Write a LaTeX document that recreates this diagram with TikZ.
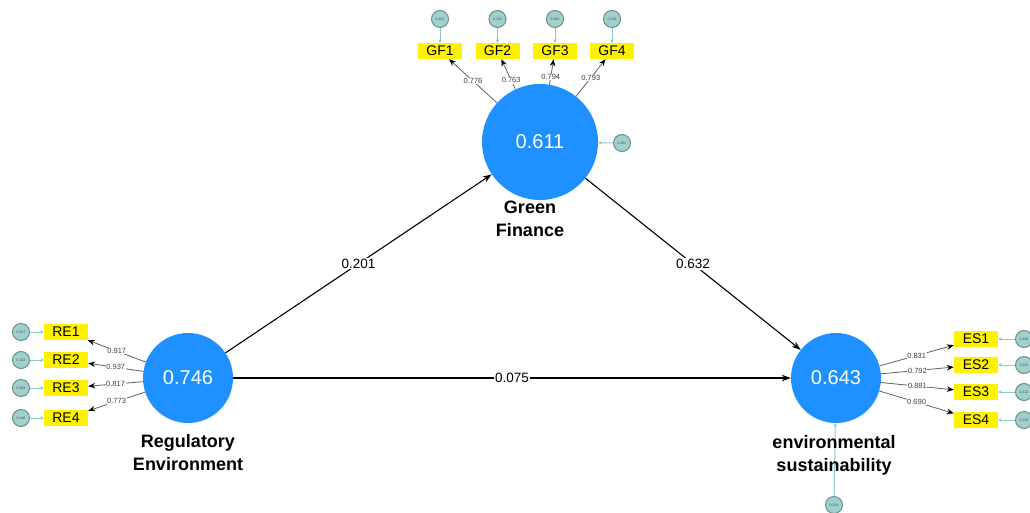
\documentclass[tikz,border=0pt]{standalone}
\usepackage{fontspec}
\setmainfont{Liberation Sans}
\usetikzlibrary{arrows.meta}
\definecolor{latentblue}{RGB}{30,144,255}
\definecolor{indyellow}{RGB}{255,242,0}
\definecolor{errfill}{RGB}{160,208,204}
\definecolor{errdraw}{RGB}{105,140,140}
\definecolor{errline}{RGB}{140,200,205}
\definecolor{loadline}{RGB}{95,95,95}
\begin{document}
\begin{tikzpicture}[x=1pt,y=-1pt,
  latent/.style={circle, fill=latentblue, draw=none, minimum size=#1, inner sep=0pt,
    text=white, font=\fontsize{20}{20}\selectfont},
  indicator/.style={fill=indyellow, minimum width=44pt, minimum height=16pt, inner sep=0pt,
    font=\fontsize{14}{14}\selectfont},
  errc/.style={circle, fill=errfill, draw=errdraw, line width=1pt, minimum size=17pt,
    inner sep=0pt, font=\fontsize{3.5}{4}\selectfont, text=black!70},
  errarrow/.style={draw=errline, line width=1pt, -{Stealth[length=3.5pt,width=3.5pt]}},
  loading/.style={draw=loadline, line width=0.8pt, -{Stealth[length=7pt,width=5.5pt,color=black]}},
  pathlink/.style={draw=black, line width=1.1pt, -{Stealth[length=9pt,width=6.5pt]}},
  lbl/.style={fill=white, inner sep=0.6pt, font=\fontsize{7.5}{8}\selectfont, text=black!75},
  plbl/.style={fill=white, inner sep=1pt, font=\fontsize{13.5}{14}\selectfont},
  construct/.style={font=\bfseries\fontsize{18}{23}\selectfont, align=center}]

\useasboundingbox (0,0) rectangle (1030,512);

% latent variables
\node[latent=116pt] (gf) at (540,142) {0.611};
\node[latent=90pt]  (re) at (188,378) {0.746};
\node[latent=90pt]  (es) at (836,378) {0.643};

% structural paths
\draw[pathlink] (re) -- node[plbl] {0.201} (gf);
\draw[pathlink] (gf) -- node[plbl] {0.632} (es);
\draw[pathlink] (re) -- node[plbl] {0.075} (es);

% Green Finance indicators
\foreach \i/\x/\e/\p/\ld in {1/440/0.152/0.5/0.776, 2/497.5/0.232/0.3/0.763,
                              3/555/0.280/0.3/0.794, 4/612/0.210/0.5/0.793} {
  \node[indicator] (gf\i) at (\x,51) {GF\i};
  \node[errc] (egf\i) at (\x,19) {\e};
  \draw[errarrow] (egf\i) -- (gf\i);
  \draw[loading] (gf) -- node[lbl, pos=\p] {\ld} (gf\i);
}

% Regulatory Environment indicators
\foreach \i/\y/\e/\ld in {1/332/0.157/0.917, 2/360/0.102/0.937,
                          3/388/0.289/0.817, 4/418/0.140/0.773} {
  \node[indicator] (re\i) at (66,\y) {RE\i};
  \node[errc] (ere\i) at (21,\y) {\e};
  \draw[errarrow] (ere\i) -- (re\i);
  \draw[loading] (re) -- node[lbl] {\ld} (re\i);
}

% environmental sustainability indicators
\foreach \i/\y/\e/\ld in {1/339/0.190/0.831, 2/365/0.161/0.792,
                          3/392/0.122/0.881, 4/420/0.226/0.690} {
  \node[indicator] (es\i) at (976,\y) {ES\i};
  \node[errc] (ees\i) at (1024,\y) {\e};
  \draw[errarrow] (ees\i) -- (es\i);
  \draw[loading] (es) -- node[lbl] {\ld} (es\i);
}

% structural error terms
\node[errc] (egf) at (622,143) {0.202};
\draw[errarrow] (egf) -- (gf);
\node[errc] (ees) at (834,505) {0.224};
\draw[errarrow] (ees) -- (es);

% construct names
\node[construct] (gft) at (530,219) {Green\\Finance};
\node[construct] (ret) at (188,453) {Regulatory\\Environment};
\node[construct] (est) at (834,455) {environmental\\sustainability};
\end{tikzpicture}
\end{document}
